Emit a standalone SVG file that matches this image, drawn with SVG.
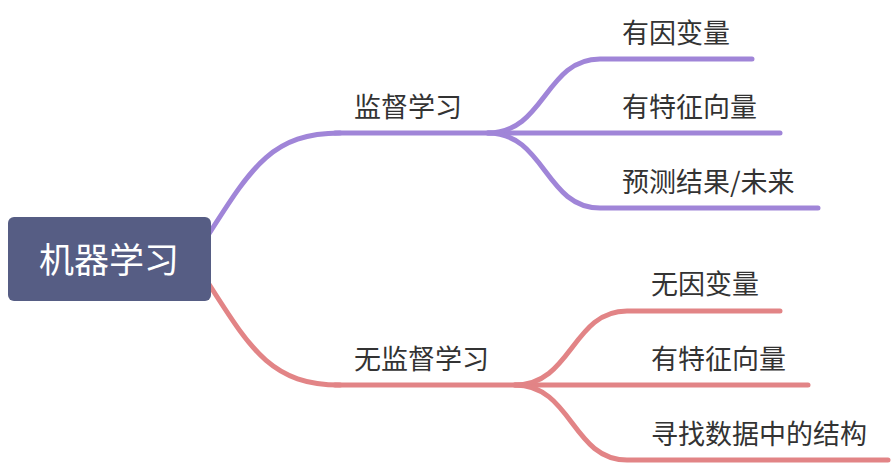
<svg xmlns="http://www.w3.org/2000/svg" width="896" height="464" viewBox="0 0 896 464">
<style>
.p{fill:none;stroke:#a085d8;stroke-width:5;stroke-linecap:round}
.r{fill:none;stroke:#e28486;stroke-width:5;stroke-linecap:round}
.t{font-family:"Noto Sans CJK SC","Noto Sans",sans-serif;font-size:27px;fill:#333}
.root{font-family:"Noto Sans CJK SC","Noto Sans",sans-serif;font-size:35px;fill:#fff}
</style>
<rect width="896" height="464" fill="#fff"/>
<g id="connectors">
<path class="p" d="M205 240 C250 170 270 133 340 133"/>
<path class="p" d="M335 133 L780 133"/>
<path class="p" d="M488 133 C545 133 545 59 600 59 L752 59"/>
<path class="p" d="M488 133 C545 133 545 208 600 208 L818 208"/>
<path class="r" d="M205 278 C250 348 270 385 340 385"/>
<path class="r" d="M335 385 L808 385"/>
<path class="r" d="M515 385 C572 385 572 311 627 311 L780 311"/>
<path class="r" d="M515 385 C572 385 572 460 627 460 L888 460"/>
</g>
<g id="root">
<rect x="8" y="217" width="203" height="84" rx="6" fill="#565d84"/>
<text class="root" x="109" y="273" text-anchor="middle">机器学习</text>
</g>
<g id="n1"><text class="t" x="354" y="117">监督学习</text></g>
<g id="n11"><text class="t" x="622" y="43">有因变量</text></g>
<g id="n12"><text class="t" x="622" y="117">有特征向量</text></g>
<g id="n13"><text class="t" x="622" y="192">预测结果/未来</text></g>
<g id="n2"><text class="t" x="354" y="369">无监督学习</text></g>
<g id="n21"><text class="t" x="651" y="294">无因变量</text></g>
<g id="n22"><text class="t" x="651" y="369">有特征向量</text></g>
<g id="n23"><text class="t" x="651" y="444">寻找数据中的结构</text></g>
</svg>
